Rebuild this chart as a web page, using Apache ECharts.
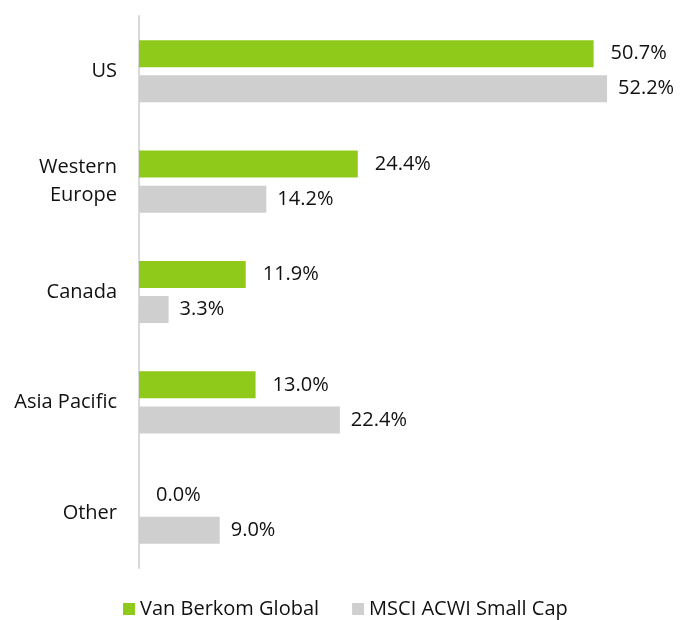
<!DOCTYPE html>
<html>
<head>
<meta charset="utf-8">
<script src="https://cdn.jsdelivr.net/npm/echarts@6/dist/echarts.min.js"></script>
<style>
  html, body { margin: 0; padding: 0; background: #fff; }
  #main { width: 693px; height: 620px; }
</style>
</head>
<body>
<div id="main"></div>
<script>
// regions, top to bottom
const regions = ['US', 'Western\nEurope', 'Canada', 'Asia Pacific', 'Other'];
const seriesNames = ['Van Berkom Global', 'MSCI ACWI Small Cap'];
const vanBerkom = [50.7, 24.4, 11.9, 13.0, 0.0];
const msciSmallCap = [52.2, 14.2, 3.3, 22.4, 9.0];

const font = '"Open Sans", "Noto Sans", sans-serif';

const chart = echarts.init(document.getElementById('main'));
const option = {
  animation: false,
  textStyle: { fontFamily: font },
  legend: {
    data: seriesNames,
    bottom: -4,
    left: 118,
    itemWidth: 12,
    itemHeight: 12,
    itemGap: 33,
    icon: 'rect',
    textStyle: { fontSize: 20, color: '#111', fontFamily: font }
  },
  grid: { left: 139, top: 16, width: 538, height: 552, containLabel: false },
  xAxis: {
    type: 'value',
    min: 0,
    max: 60,
    show: false
  },
  yAxis: {
    type: 'category',
    data: regions,
    inverse: true,
    axisLine: { lineStyle: { color: '#d9d9d9', width: 2 } },
    axisTick: { show: false },
    axisLabel: { fontSize: 20, color: '#111', margin: 22, lineHeight: 28, fontFamily: font }
  },
  series: [
    {
      name: seriesNames[0],
      type: 'bar',
      data: vanBerkom,
      itemStyle: { color: '#8fc91a' },
      barWidth: 27,
      barGap: '30%',
      label: {
        show: true, position: 'right', distance: 17,
        fontSize: 20, color: '#111', fontFamily: font,
        formatter: p => p.value.toFixed(1) + '%'
      }
    },
    {
      name: seriesNames[1],
      type: 'bar',
      data: msciSmallCap,
      itemStyle: { color: '#d0cfd0' },
      barWidth: 27,
      label: {
        show: true, position: 'right', distance: 11,
        fontSize: 20, color: '#111', fontFamily: font,
        formatter: p => p.value.toFixed(1) + '%'
      }
    }
  ]
};
chart.setOption(option);
</script>
</body>
</html>
